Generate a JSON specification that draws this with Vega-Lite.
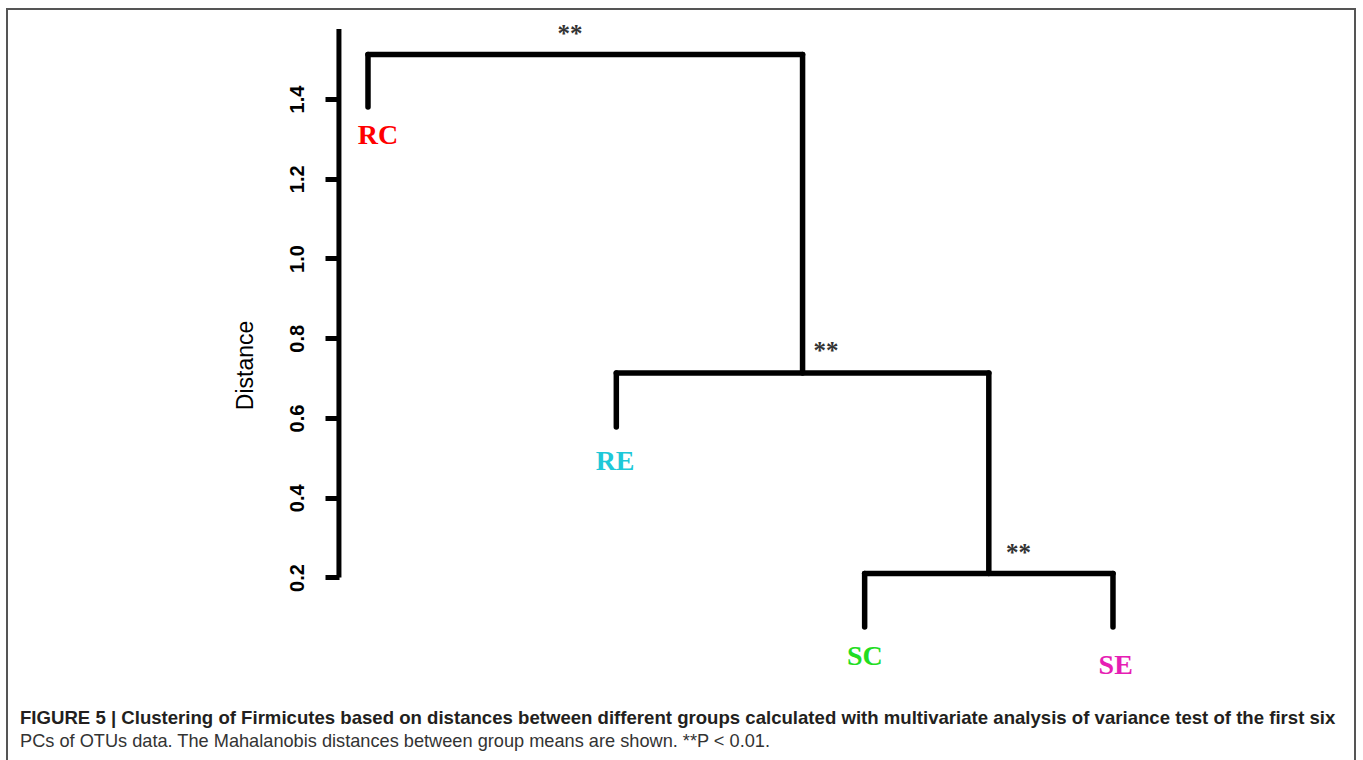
{
  "$schema": "https://vega.github.io/schema/vega-lite/v6.json",
  "width": 1348,
  "height": 760,
  "autosize": {"type": "none"},
  "padding": {"left": 7, "top": 9, "right": 8, "bottom": 0},
  "background": "white",
  "config": {
    "view": {"stroke": "#555555", "strokeWidth": 2}
  },
  "title": {
    "text": "FIGURE 5 | Clustering of Firmicutes based on distances between different groups calculated with multivariate analysis of variance test of the first six",
    "subtitle": "PCs of OTUs data. The Mahalanobis distances between group means are shown. **P < 0.01.",
    "orient": "bottom",
    "anchor": "start",
    "frame": "group",
    "offset": -60,
    "dx": 13,
    "font": "Liberation Sans",
    "fontSize": 18.6,
    "fontWeight": "bold",
    "color": "#231f20",
    "subtitleFont": "Liberation Sans",
    "subtitleFontSize": 18.2,
    "subtitleColor": "#333333",
    "subtitlePadding": 5
  },
  "layer": [
    {
      "data": {"values": [
        {"x": 1, "x2": 1, "y": 1.380, "y2": 1.5116},
        {"x": 1, "x2": 2.75, "y": 1.5116, "y2": 1.5116},
        {"x": 2.75, "x2": 2.75, "y": 0.7128, "y2": 1.5116},
        {"x": 2, "x2": 3.5, "y": 0.7128, "y2": 0.7128},
        {"x": 2, "x2": 2, "y": 0.5774, "y2": 0.7128},
        {"x": 3.5, "x2": 3.5, "y": 0.21, "y2": 0.7128},
        {"x": 3, "x2": 4, "y": 0.21, "y2": 0.21},
        {"x": 3, "x2": 3, "y": 0.0759, "y2": 0.21},
        {"x": 4, "x2": 4, "y": 0.0759, "y2": 0.21}
      ]},
      "mark": {"type": "rule", "strokeWidth": 5.5, "strokeCap": "round", "color": "black"},
      "encoding": {
        "x": {"field": "x", "type": "quantitative", "scale": {"domain": [-0.4537, 4.9746], "nice": false, "zero": false}, "axis": null},
        "x2": {"field": "x2"},
        "y": {"field": "y", "type": "quantitative",
          "scale": {"domain": [-0.2803, 1.6257], "nice": false, "zero": false},
          "axis": {
            "values": [0.2, 0.4, 0.6, 0.8, 1.0, 1.2, 1.4],
            "format": ".1f",
            "domain": false,
            "grid": false,
            "offset": -332,
            "tickSize": 14,
            "tickWidth": 5,
            "tickColor": "black",
            "labelAngle": -90,
            "labelAlign": "center",
            "labelBaseline": "alphabetic",
            "labelPadding": 22,
            "labelFont": "Liberation Sans",
            "labelFontSize": 20,
            "labelFontWeight": "bold",
            "labelColor": "black",
            "title": "Distance",
            "titleFont": "Liberation Sans",
            "titleFontSize": 23,
            "titleFontWeight": "normal",
            "titleColor": "black",
            "titleAngle": -90,
            "titleAlign": "center",
            "titleBaseline": "alphabetic",
            "titleX": -87,
            "titleY": 356
          }
        },
        "y2": {"field": "y2"}
      }
    },
    {
      "data": {"values": [{"x": 0.883, "y": 0.2, "y2": 1.5755}]},
      "mark": {"type": "rule", "strokeWidth": 5, "strokeCap": "butt", "color": "black"},
      "encoding": {
        "x": {"field": "x", "type": "quantitative"},
        "y": {"field": "y", "type": "quantitative"},
        "y2": {"field": "y2"}
      }
    },
    {
      "data": {"values": [
        {"label": "RC", "x": 1.040, "y": 1.2872},
        {"label": "RE", "x": 1.995, "y": 0.4696},
        {"label": "SC", "x": 3.001, "y": -0.0194},
        {"label": "SE", "x": 4.011, "y": -0.042}
      ]},
      "mark": {"type": "text", "font": "Liberation Serif", "fontSize": 28, "fontWeight": "bold", "align": "center", "baseline": "alphabetic"},
      "encoding": {
        "x": {"field": "x", "type": "quantitative"},
        "y": {"field": "y", "type": "quantitative"},
        "text": {"field": "label"},
        "color": {"field": "label", "type": "nominal",
          "scale": {"domain": ["RC", "RE", "SC", "SE"], "range": ["#ff0000", "#1ec8d8", "#22dd22", "#e61eb4"]},
          "legend": null}
      }
    },
    {
      "data": {"values": [
        {"x": 1.813, "y": 1.543, "sig": "**"},
        {"x": 2.844, "y": 0.7472, "sig": "**"},
        {"x": 3.620, "y": 0.2414, "sig": "**"}
      ]},
      "mark": {"type": "text", "font": "Liberation Serif", "fontSize": 25, "fontWeight": "bold", "align": "center", "baseline": "alphabetic", "color": "#333333"},
      "encoding": {
        "x": {"field": "x", "type": "quantitative"},
        "y": {"field": "y", "type": "quantitative"},
        "text": {"field": "sig"}
      }
    }
  ]
}
